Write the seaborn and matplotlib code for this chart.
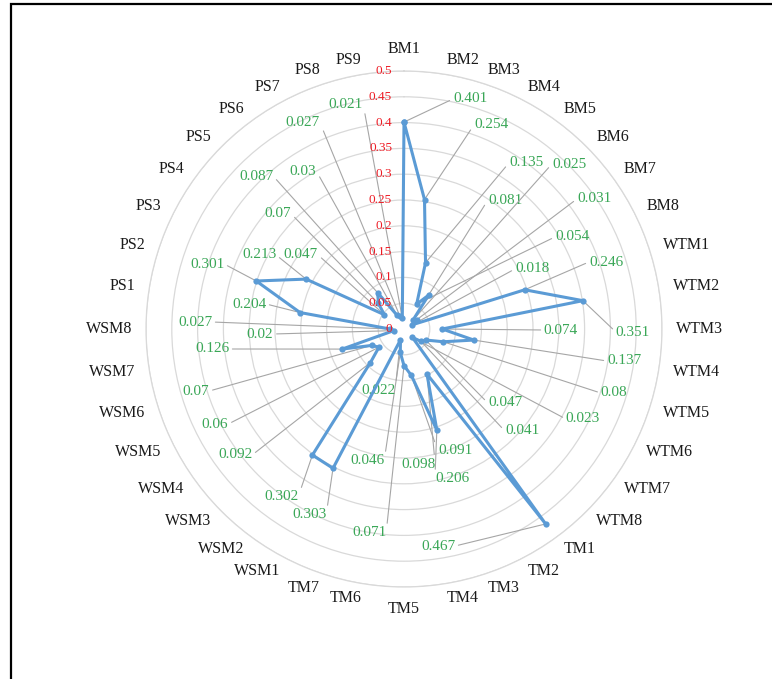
import numpy as np
import pandas as pd
import matplotlib
matplotlib.use("Agg")
import matplotlib.pyplot as plt
import seaborn as sns
from matplotlib.patches import Rectangle

# categories clockwise from the top
bm = [f"BM{i}" for i in range(1, 9)]
wtm = [f"WTM{i}" for i in range(1, 9)]
tm = [f"TM{i}" for i in range(1, 8)]
wsm = [f"WSM{i}" for i in range(1, 9)]
ps = [f"PS{i}" for i in range(1, 10)]
categories = bm + wtm + tm + wsm + ps

bm_values = [0.401, 0.254, 0.135, 0.054, 0.081, 0.025, 0.031, 0.018]
wtm_values = [0.246, 0.351, 0.074, 0.137, 0.08, 0.047, 0.041, 0.023]
tm_values = [0.467, 0.098, 0.206, 0.091, 0.071, 0.046, 0.022]
wsm_values = [0.303, 0.302, 0.092, 0.06, 0.07, 0.126, 0.02, 0.027]
ps_values = [0.204, 0.301, 0.213, 0.047, 0.07, 0.087, 0.03, 0.027, 0.021]
values = bm_values + wtm_values + tm_values + wsm_values + ps_values

rings = [0.05, 0.1, 0.15, 0.2, 0.25, 0.3, 0.35, 0.4, 0.45, 0.5]

# where each value label sits, in pixels of the 772x679 picture
label_px = [
    (470, 99), (491, 125), (526, 163), (572, 237), (505, 200), (569, 164), (594, 199), (532, 269),
    (606, 262), (633, 332), (561, 330), (624, 361), (614, 393), (505, 403), (522, 431), (583, 419),
    (438, 546), (418, 464), (452, 479), (455, 451), (369, 533), (367, 461), (378, 390),
    (309, 515), (281, 497), (235, 455), (215, 424), (196, 391), (212, 349), (260, 334), (195, 322),
    (249, 304), (207, 264), (259, 255), (301, 255), (278, 214), (256, 176), (303, 171), (303, 123), (346, 104),
]
CX, CY, PX_PER_UNIT = 404, 329, 516.0
LABEL_R_PX = 272

sns.set_theme(style="white")
plt.rcParams['font.family'] = ['Liberation Serif', 'DejaVu Serif']

fig = plt.figure(figsize=(7.72, 6.79), dpi=100)
ax = fig.add_axes([(CX - 258) / 772, (679 - CY - 258) / 679, 516 / 772, 516 / 679], projection='polar')
ax.set_theta_zero_location('N')
ax.set_theta_direction(-1)
ax.set_facecolor('none')

n = len(categories)
theta = np.deg2rad(np.arange(n) * 360.0 / n)
df = pd.DataFrame({'theta': np.append(theta, 2 * np.pi), 'value': values + [values[0]]})
sns.lineplot(data=df, x='theta', y='value', sort=False, ax=ax, color='#5b9bd5', linewidth=2.2,
             marker='o', markersize=4.5, markeredgewidth=0, errorbar=None, zorder=5)

ax.set_ylim(0, 0.5)
ax.set_xticks([])
ax.set_yticks(rings)
ax.set_yticklabels([])
ax.set_xlabel('')
ax.set_ylabel('')
ax.yaxis.grid(True, color='#d9d9d9', linewidth=0.9)
ax.spines['polar'].set_color('#d9d9d9')
ax.spines['polar'].set_linewidth(0.9)

# radial tick labels in red, left of the vertical axis
for r in [0] + rings:
    ax.annotate(f"{r:g}", xy=(0, r), xytext=(-12, 0), textcoords='offset pixels',
                ha='right', va='center', color='#ee1c25', fontsize=9.5, zorder=6)

# category labels around the outside
for ang, name in zip(theta, categories):
    s = np.sin(ang)
    c = np.cos(ang)
    if abs(s) < 1e-6:
        ha, va = 'center', ('bottom' if c > 0 else 'top')
    else:
        ha, va = ('left' if s > 0 else 'right'), 'center'
    ax.text(ang, LABEL_R_PX / PX_PER_UNIT, name, ha=ha, va=va, fontsize=11.5, color='#1a1a1a')

# green value labels with grey leader lines
for ang, v, (lx, ly) in zip(theta, values, label_px):
    ddx, ddy = lx - CX, ly - CY
    t_ang = np.arctan2(ddx, -ddy) % (2 * np.pi)
    t_r = np.hypot(ddx, ddy) / PX_PER_UNIT
    pt_x = CX + v * PX_PER_UNIT * np.sin(ang)
    rel = (0, 0.5) if lx > pt_x else (1, 0.5)
    ax.annotate(f"{v:g}", xy=(ang, v), xytext=(t_ang, t_r), textcoords='data',
                ha='center', va='center', color='#3aa757', fontsize=11, zorder=4,
                arrowprops=dict(arrowstyle='-', color='#a6a6a6', lw=0.8,
                                shrinkA=0, shrinkB=1, relpos=rel))

fig.add_artist(Rectangle((11 / 772, -0.02), 1.0, (679 - 4) / 679 + 0.02, transform=fig.transFigure,
                         fill=False, edgecolor='black', linewidth=1.6))

fig.savefig('out.png', dpi=100)
